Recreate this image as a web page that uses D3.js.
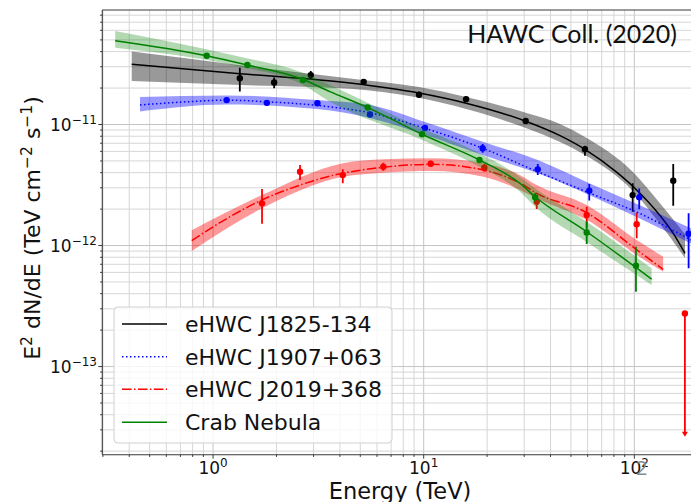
<!DOCTYPE html>
<html>
<head>
<meta charset="utf-8">
<script src="https://cdn.jsdelivr.net/npm/d3@7"></script>
<style>
  body { margin: 0; background: #fff; }
  svg { display: block; }
</style>
</head>
<body>
<svg id="chart" width="691" height="502"></svg>
<script>
// ---- eHWC J1825-134 ----
const j1825PtE  = [1.34, 1.95, 2.91, 5.19, 9.50, 15.9, 30.5, 58.3, 98.2, 153];
const j1825PtF  = [2.41e-11, 2.22e-11, 2.56e-11, 2.25e-11, 1.76e-11, 1.62e-11, 1.07e-11, 6.24e-12, 2.61e-12, 3.43e-12];
const j1825PtLo = [1.87e-11, 1.99e-11, 2.38e-11, 2.12e-11, 1.67e-11, 1.55e-11, 1.01e-11, 5.52e-12, 1.90e-12, 2.13e-12];
const j1825PtHi = [2.95e-11, 2.45e-11, 2.77e-11, 2.38e-11, 1.86e-11, 1.70e-11, 1.13e-11, 6.68e-12, 3.27e-12, 4.72e-12];
const j1825FitE = [0.411, 1.343, 4.47, 9.50, 15.9, 30.5, 44.4, 58.3, 82.4, 98.9, 132.3, 153, 174];
const j1825FitF = [3.14e-11, 2.63e-11, 2.20e-11, 1.82e-11, 1.50e-11, 1.065e-11, 8.10e-12, 6.24e-12, 4.04e-12, 3.06e-12, 1.77e-12, 1.26e-12, 8.61e-13];
const j1825BandE  = [0.411, 1.343, 4.47, 9.50, 15.9, 30.5, 44.4, 58.3, 98.5, 132.3, 174];
const j1825BandHi = [4.00e-11, 3.09e-11, 2.40e-11, 2.04e-11, 1.69e-11, 1.25e-11, 1.01e-11, 7.88e-12, 4.05e-12, 2.24e-12, 1.24e-12];
const j1825BandLo = [2.29e-11, 2.12e-11, 1.97e-11, 1.66e-11, 1.34e-11, 9.36e-12, 7.17e-12, 5.60e-12, 2.82e-12, 1.51e-12, 7.88e-13];

// ---- eHWC J1907+063 ----
const j1907PtE  = [1.16, 1.80, 3.13, 5.56, 10.14, 19.05, 34.8, 61.1, 105.5, 181];
const j1907PtF  = [1.59e-11, 1.51e-11, 1.50e-11, 1.21e-11, 9.36e-12, 6.36e-12, 4.26e-12, 2.84e-12, 2.50e-12, 1.25e-12];
const j1907PtLo = [1.51e-11, 1.43e-11, 1.42e-11, 1.15e-11, 8.85e-12, 5.85e-12, 3.83e-12, 2.35e-12, 1.99e-12, 6.48e-13];
const j1907PtHi = [1.67e-11, 1.59e-11, 1.58e-11, 1.28e-11, 9.90e-12, 6.90e-12, 4.72e-12, 3.22e-12, 2.96e-12, 1.85e-12];
const j1907FitE = [0.450, 0.750, 1.16, 1.80, 3.11, 3.59, 5.56, 10.14, 19.05, 34.8, 61.1, 105.5, 185.6];
const j1907FitF = [1.45e-11, 1.54e-11, 1.59e-11, 1.54e-11, 1.44e-11, 1.40e-11, 1.25e-11, 9.30e-12, 6.36e-12, 4.07e-12, 2.72e-12, 1.85e-12, 1.11e-12];
const j1907BandE  = [0.450, 1.16, 3.11, 5.56, 10.14, 19.05, 34.8, 61.1, 105.5, 185.6];
const j1907BandHi = [1.69e-11, 1.74e-11, 1.59e-11, 1.45e-11, 1.05e-11, 7.21e-12, 5.09e-12, 3.27e-12, 2.16e-12, 1.39e-12];
const j1907BandLo = [1.28e-11, 1.46e-11, 1.34e-11, 1.13e-11, 8.19e-12, 5.60e-12, 3.95e-12, 2.61e-12, 1.68e-12, 1.04e-12];

// ---- eHWC J2019+368 ----
const j2019PtE  = [1.708, 2.588, 4.13, 6.43, 10.8, 19.4, 34.4, 59.4, 102.6];
const j2019PtF  = [2.23e-12, 4.07e-12, 3.82e-12, 4.48e-12, 4.74e-12, 4.40e-12, 2.30e-12, 1.79e-12, 1.50e-12];
const j2019PtLo = [1.51e-12, 3.48e-12, 3.27e-12, 4.15e-12, 4.48e-12, 4.07e-12, 2.00e-12, 1.41e-12, 1.15e-12];
const j2019PtHi = [2.93e-12, 4.63e-12, 4.26e-12, 4.83e-12, 5.02e-12, 4.72e-12, 2.62e-12, 2.09e-12, 1.87e-12];
const j2019UlE = [173.8];
const j2019UlF = [2.75e-13];
const j2019UlTo = [2.63e-14];
const j2019FitE = [0.792, 1.204, 1.708, 2.588, 3.59, 6.43, 10.9, 19.2, 28.6, 34.4, 59.4, 102.6, 137];
const j2019FitF = [1.10e-12, 1.73e-12, 2.38e-12, 3.16e-12, 3.75e-12, 4.43e-12, 4.69e-12, 4.21e-12, 3.28e-12, 2.70e-12, 1.87e-12, 9.23e-13, 6.36e-13];
const j2019BandE  = [0.792, 1.708, 4.13, 6.43, 10.9, 19.2, 28.6, 34.4, 59.4, 102.6, 137];
const j2019BandHi = [1.34e-12, 2.61e-12, 4.78e-12, 5.16e-12, 5.26e-12, 4.78e-12, 3.83e-12, 3.16e-12, 2.16e-12, 1.11e-12, 8.08e-13];
const j2019BandLo = [9.01e-13, 2.03e-12, 3.70e-12, 4.00e-12, 4.13e-12, 3.70e-12, 2.88e-12, 2.45e-12, 1.63e-12, 8.35e-13, 6.07e-13];

// ---- Crab Nebula ----
const crabPtE  = [0.933, 1.455, 2.67, 5.42, 9.82, 18.4, 33.8, 59.4, 101.8];
const crabPtF  = [3.70e-11, 3.10e-11, 2.33e-11, 1.38e-11, 8.30e-12, 5.09e-12, 2.50e-12, 1.28e-12, 6.81e-13];
const crabPtLo = [3.60e-11, 3.02e-11, 2.26e-11, 1.34e-11, 8.05e-12, 4.90e-12, 2.29e-12, 1.03e-12, 4.15e-13];
const crabPtHi = [3.80e-11, 3.18e-11, 2.40e-11, 1.42e-11, 8.55e-12, 5.28e-12, 2.73e-12, 1.58e-12, 9.77e-13];
const crabFitE = [0.343, 0.933, 1.455, 2.588, 3.59, 5.42, 9.82, 18.4, 28.6, 33.8, 59.4, 120.8];
const crabFitF = [4.93e-11, 3.70e-11, 3.10e-11, 2.41e-11, 1.87e-11, 1.38e-11, 8.30e-12, 5.09e-12, 3.27e-12, 2.53e-12, 1.30e-12, 5.28e-13];
const crabBandE  = [0.343, 1.343, 2.588, 3.59, 9.82, 18.4, 28.6, 33.8, 59.4, 120.8];
const crabBandHi = [5.93e-11, 3.63e-11, 2.73e-11, 2.12e-11, 9.30e-12, 5.78e-12, 3.70e-12, 2.97e-12, 1.57e-12, 6.48e-13];
const crabBandLo = [4.31e-11, 3.00e-11, 2.19e-11, 1.54e-11, 7.45e-12, 4.48e-12, 2.79e-12, 2.09e-12, 1.07e-12, 4.72e-13];

// ---- labels and ticks ----
const legendLabels = ["eHWC J1825-134", "eHWC J1907+063", "eHWC J2019+368", "Crab Nebula"];
const xTickVals = [1, 10, 100];
const xTickExp  = ["0", "1", "2"];
const yTickVals = [1e-13, 1e-12, 1e-11];
const yTickExp  = ["\u221213", "\u221212", "\u221211"];
const titleText = "HAWC Coll. (2020)";

// ---- layout ----
const svg = d3.select("#chart");
const W = 691, H = 502;
const pL = 102.3, pT = 10, pB = 454.7, pR = 700;

const x = d3.scaleLog().domain([0.298, 205]).range([pL, pR]);
const y = d3.scaleLog().domain([1.87e-14, 8.83e-11]).range([pB, pT]);

svg.append("rect").attr("width", W).attr("height", H).attr("fill", "#fff");

svg.append("defs").append("clipPath").attr("id", "plotclip")
  .append("rect").attr("x", pL).attr("y", pT).attr("width", pR - pL).attr("height", pB - pT);

// grid (major + minor)
const grid = svg.append("g");
const xAll = x.ticks(30).filter(v => v >= 0.298 && v <= 205);
const yAll = y.ticks(60);
const isMajor = v => Math.abs(Math.log10(v) - Math.round(Math.log10(v))) < 1e-6;
xAll.forEach(v => {
  grid.append("line").attr("x1", x(v)).attr("x2", x(v)).attr("y1", pT).attr("y2", pB)
    .attr("stroke", isMajor(v) ? "#c4c4c4" : "#d6d6d6").attr("stroke-width", 1);
});
yAll.forEach(v => {
  if (y(v) < pT || y(v) > pB) return;
  grid.append("line").attr("x1", pL).attr("x2", pR).attr("y1", y(v)).attr("y2", y(v))
    .attr("stroke", isMajor(v) ? "#c4c4c4" : "#d6d6d6").attr("stroke-width", 1);
});

const plot = svg.append("g").attr("clip-path", "url(#plotclip)");

function zip(E, A, B) { return E.map((e, i) => ({ e, a: A[i], b: B ? B[i] : null })); }

const area = d3.area().x(d => x(d.e)).y0(d => y(d.b)).y1(d => y(d.a)).curve(d3.curveMonotoneX);
const line = d3.line().x(d => x(d.e)).y(d => y(d.a)).curve(d3.curveMonotoneX);

function drawSource(bandE, bandHi, bandLo, bandOpacity, fitE, fitF, dash, ptE, ptF, ptLo, ptHi, color) {
  plot.append("path").datum(zip(bandE, bandHi, bandLo)).attr("d", area)
    .attr("fill", color).attr("fill-opacity", bandOpacity).attr("stroke", "none");
  plot.append("path").datum(zip(fitE, fitF)).attr("d", line)
    .attr("fill", "none").attr("stroke", color).attr("stroke-width", 1.5)
    .attr("stroke-dasharray", dash);
  const pts = zip(ptE, ptF).map((d, i) => ({ e: d.e, f: d.a, lo: ptLo[i], hi: ptHi[i] }));
  plot.selectAll(null).data(pts).enter().append("line")
    .attr("x1", d => x(d.e)).attr("x2", d => x(d.e))
    .attr("y1", d => y(d.lo)).attr("y2", d => y(d.hi))
    .attr("stroke", color).attr("stroke-width", 1.8);
  plot.selectAll(null).data(pts).enter().append("circle")
    .attr("cx", d => x(d.e)).attr("cy", d => y(d.f)).attr("r", 3.2).attr("fill", color);
}

const dotted = "1.5,2.5";
const dashdot = "9.6,2.4,1.5,2.4";

drawSource(j1825BandE, j1825BandHi, j1825BandLo, 0.4, j1825FitE, j1825FitF, null,
  j1825PtE, j1825PtF, j1825PtLo, j1825PtHi, "#000000");
drawSource(j1907BandE, j1907BandHi, j1907BandLo, 0.4, j1907FitE, j1907FitF, dotted,
  j1907PtE, j1907PtF, j1907PtLo, j1907PtHi, "#0000ff");
drawSource(j2019BandE, j2019BandHi, j2019BandLo, 0.4, j2019FitE, j2019FitF, dashdot,
  j2019PtE, j2019PtF, j2019PtLo, j2019PtHi, "#ff0000");
drawSource(crabBandE, crabBandHi, crabBandLo, 0.3, crabFitE, crabFitF, null,
  crabPtE, crabPtF, crabPtLo, crabPtHi, "#008000");

// J2019 upper limit: stem with a downward arrow
j2019UlE.forEach((e, i) => {
  const cx = x(e), y0 = y(j2019UlF[i]), y1 = y(j2019UlTo[i]);
  plot.append("line").attr("x1", cx).attr("x2", cx).attr("y1", y0).attr("y2", y1 - 3)
    .attr("stroke", "#ff0000").attr("stroke-width", 1.8);
  plot.append("path").attr("d", `M${cx - 3},${y1 - 5}L${cx + 3},${y1 - 5}L${cx},${y1}Z`).attr("fill", "#ff0000");
  plot.append("circle").attr("cx", cx).attr("cy", y0).attr("r", 3.2).attr("fill", "#ff0000");
});

// spines
const axisColor = "#3a3a3a";
svg.append("line").attr("x1", pL).attr("x2", pL).attr("y1", pT).attr("y2", pB).attr("stroke", axisColor).attr("stroke-width", 1.1);
svg.append("line").attr("x1", pL).attr("x2", pR).attr("y1", pB).attr("y2", pB).attr("stroke", axisColor).attr("stroke-width", 1.1);
svg.append("line").attr("x1", pL).attr("x2", pR).attr("y1", pT).attr("y2", pT).attr("stroke", axisColor).attr("stroke-width", 1.1);

// tick marks
xAll.forEach(v => {
  const L = isMajor(v) ? 4 : 2.2;
  svg.append("line").attr("x1", x(v)).attr("x2", x(v)).attr("y1", pB).attr("y2", pB + L)
    .attr("stroke", axisColor).attr("stroke-width", 1);
});
yAll.forEach(v => {
  if (y(v) < pT || y(v) > pB) return;
  const L = isMajor(v) ? 4 : 2.2;
  svg.append("line").attr("x1", pL - L).attr("x2", pL).attr("y1", y(v)).attr("y2", y(v))
    .attr("stroke", axisColor).attr("stroke-width", 1);
});

const font = "'DejaVu Sans', sans-serif";

// tick labels with superscript exponents
xTickVals.forEach((v, i) => {
  const t = svg.append("text").attr("x", x(v)).attr("y", 474).attr("text-anchor", "middle")
    .attr("font-family", font).attr("font-size", 17).attr("fill", "#111");
  t.append("tspan").text("10");
  t.append("tspan").attr("dy", -7).attr("font-size", 12).text(xTickExp[i]);
});
yTickVals.forEach((v, i) => {
  const t = svg.append("text").attr("x", 97).attr("y", y(v) + 6.5).attr("text-anchor", "end")
    .attr("font-family", font).attr("font-size", 17).attr("fill", "#111");
  t.append("tspan").text("10");
  t.append("tspan").attr("dy", -7).attr("font-size", 12).text(yTickExp[i]);
});

// stray glyph printed over the 10^2 label
svg.append("text").attr("x", 636).attr("y", 475).attr("font-family", "'Open Sans', sans-serif")
  .attr("font-size", 20).attr("fill", "#8a8a8a").text("2");

// axis titles
svg.append("text").attr("x", 400).attr("y", 499).attr("text-anchor", "middle")
  .attr("font-family", font).attr("font-size", 22.5).attr("fill", "#111").text("Energy (TeV)");

const yl = svg.append("text").attr("transform", "translate(40,228) rotate(-90)")
  .attr("text-anchor", "middle").attr("font-family", font).attr("font-size", 22).attr("fill", "#111");
const ylParts = [["E", 0], ["2", 1], [" dN/dE (TeV cm", 0], ["\u22122", 1], [" s", 0], ["\u22121", 1], [")", 0]];
let prevSup = 0;
ylParts.forEach(([txt, sup]) => {
  const ts = yl.append("tspan").text(txt);
  if (sup && !prevSup) ts.attr("dy", -8.5).attr("font-size", 15.5);
  else if (sup) ts.attr("font-size", 15.5);
  else if (!sup && prevSup) ts.attr("dy", 8.5);
  prevSup = sup;
});

// title
svg.append("text").attr("x", 677).attr("y", 43).attr("text-anchor", "end")
  .attr("font-family", "Lato, 'Open Sans', sans-serif").attr("font-size", 25).attr("fill", "#111").text(titleText);

// legend
const lg = svg.append("g");
lg.append("rect").attr("x", 114).attr("y", 307).attr("width", 278).attr("height", 136).attr("rx", 4)
  .attr("fill", "#fff").attr("fill-opacity", 0.8).attr("stroke", "#d0d0d0").attr("stroke-width", 1);
const legColors = ["#000000", "#0000ff", "#ff0000", "#008000"];
const legDash = [null, dotted, dashdot, null];
const legRowY = [324, 356.7, 389.3, 422.3];
legendLabels.forEach((lab, i) => {
  lg.append("line").attr("x1", 122).attr("x2", 167).attr("y1", legRowY[i]).attr("y2", legRowY[i])
    .attr("stroke", legColors[i]).attr("stroke-width", 1.5).attr("stroke-dasharray", legDash[i]);
  lg.append("text").attr("x", 185).attr("y", legRowY[i] + 8).attr("font-family", font)
    .attr("font-size", 22).attr("fill", "#111").text(lab);
});
</script>
</body>
</html>
